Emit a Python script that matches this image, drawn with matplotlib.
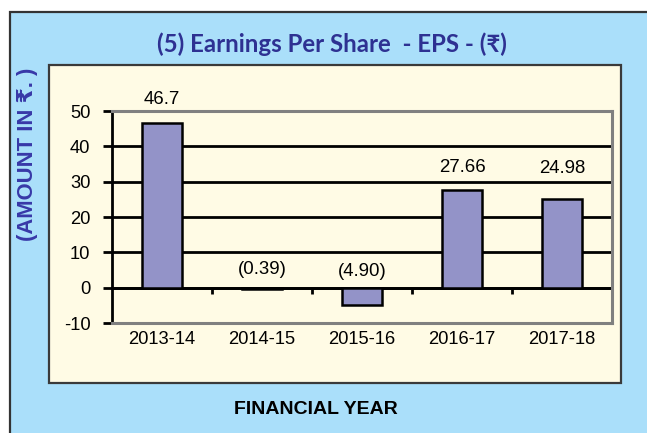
import matplotlib
matplotlib.use("Agg")
import matplotlib.pyplot as plt
from matplotlib.patches import Rectangle

# ---- data ----
years = ["2013-14", "2014-15", "2015-16", "2016-17", "2017-18"]
eps = [46.7, -0.39, -4.90, 27.66, 24.98]
eps_labels = ["46.7", "(0.39)", "(4.90)", "27.66", "24.98"]
y_ticks = [-10, 0, 10, 20, 30, 40, 50]

# ---- style ----
W, H = 647, 433
label_offsets_pt = [17, 13, 11.5, 16.3, 22.3]
sans = ["Liberation Sans", "DejaVu Sans"]
plt.rcParams["font.family"] = sans
plt.rcParams["axes.unicode_minus"] = False

fig = plt.figure(figsize=(W / 100, H / 100), dpi=100)
fig.patch.set_facecolor("white")

def px_rect(x0, y0, x1, y1, **kw):
    return Rectangle((x0 / W, 1 - y1 / H), (x1 - x0) / W, (y1 - y0) / H,
                     transform=fig.transFigure, **kw)

# outer light blue frame
fig.patches.append(px_rect(10, 12, 650, 436, facecolor="#AADFFA",
                           edgecolor="#333333", linewidth=1.6, zorder=-3))
# yellow panel
fig.patches.append(px_rect(49, 65, 621, 383, facecolor="#FFFBE5",
                           edgecolor="#3A3A3A", linewidth=1.6, zorder=-2))

ax = fig.add_axes([112 / W, (H - 323) / H, 500 / W, 212 / H])
ax.set_facecolor("#FFFBE5")
x = list(range(len(years)))
ax.bar(x, eps, width=0.4, color="#9393C8", edgecolor="black",
       linewidth=1.8, zorder=3)

ax.set_xlim(-0.5, len(years) - 0.5)
ax.set_ylim(y_ticks[0], y_ticks[-1])
ax.set_yticks(y_ticks)
ax.set_xticks(x)
ax.set_xticklabels(years)
ax.tick_params(axis="x", length=0, pad=5.5, labelsize=13.2)
ax.tick_params(axis="y", length=6.5, width=2, pad=9, labelsize=13.2,
               direction="out")

ax.yaxis.grid(True, color="black", linewidth=2)
ax.set_axisbelow(True)
for s in ["top", "right", "bottom"]:
    ax.spines[s].set_color("#808080")
    ax.spines[s].set_linewidth(2.2)
ax.spines["left"].set_color("black")
ax.spines["left"].set_linewidth(2)

# zero axis with category-boundary ticks
zero_frac = (0 - y_ticks[0]) / (y_ticks[-1] - y_ticks[0])
sec = ax.secondary_xaxis(zero_frac)
sec.set_zorder(2)
sec.set_xticks([i + 0.5 for i in x[:-1]])
sec.set_xticklabels([])
sec.tick_params(length=4, width=2, direction="out", color="black")
sec.spines["bottom"].set_color("black")
sec.spines["bottom"].set_linewidth(2)

for i, (v, lab, off) in enumerate(zip(eps, eps_labels, label_offsets_pt)):
    ax.annotate(lab, (i, max(v, 0)), xytext=(0, off), textcoords="offset points",
                ha="center", va="center", fontsize=13.4, color="black",
                annotation_clip=False, zorder=5)

fig.text(332 / W, 1 - 44 / H, "(5) Earnings Per Share  - EPS - (\u20b9)",
         ha="center", va="center", fontsize=17.3, fontweight="bold",
         color="#2E3192", family=["Lato", "DejaVu Sans"])
fig.text(28 / W, 1 - 154 / H, "(AMOUNT IN \u20b9. )", rotation=90,
         ha="center", va="center", fontsize=15.8, fontweight="bold",
         color="#3838A8", family=sans)
fig.text(316 / W, 1 - 410 / H, "FINANCIAL YEAR", ha="center", va="center",
         fontsize=14, fontweight="bold", color="black", family=sans)

fig.savefig("out.png", dpi=100)
